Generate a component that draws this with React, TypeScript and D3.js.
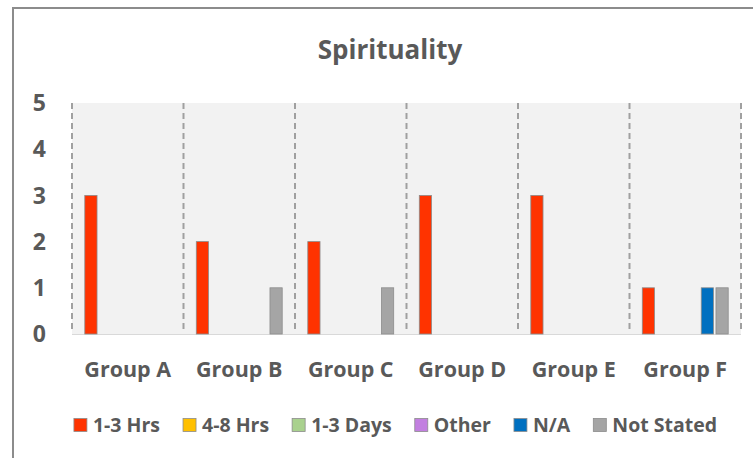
import React from "react";
import * as d3 from "d3";

const title = "Spirituality";
const categories = ["Group A", "Group B", "Group C", "Group D", "Group E", "Group F"];
const seriesNames = ["1-3 Hrs", "4-8 Hrs", "1-3 Days", "Other", "N/A", "Not Stated"];
const seriesColors = ["#FF3300", "#FFC000", "#A9D18E", "#C27FE0", "#0070C0", "#A5A5A5"];
const hrs13 = [3, 2, 2, 3, 3, 1];
const hrs48 = [0, 0, 0, 0, 0, 0];
const days13 = [0, 0, 0, 0, 0, 0];
const other = [0, 0, 0, 0, 0, 0];
const na = [0, 0, 0, 0, 0, 1];
const notStated = [0, 1, 1, 0, 0, 1];
const yTicks = [0, 1, 2, 3, 4, 5];

const seriesValues = [hrs13, hrs48, days13, other, na, notStated];

const W = 753;
const H = 458;
const FONT = "'Open Sans', sans-serif";
const TEXT = "#595959";

function measure(text: string, size: number, weight: number) {
  const c = document.createElement("canvas").getContext("2d")!;
  c.font = `${weight} ${size}px 'Open Sans'`;
  return c.measureText(text).width;
}

export default function App() {
  const plot = { left: 72, right: 741, top: 103, bottom: 334 };
  const x = d3.scaleBand<string>().domain(categories).range([plot.left, plot.right]).padding(0);
  const inner = d3
    .scaleBand<string>()
    .domain(seriesNames)
    .range([12.8, x.bandwidth() - 12.8])
    .paddingInner(0.17)
    .paddingOuter(0);
  const y = d3.scaleLinear().domain([0, 5]).range([plot.bottom, plot.top]);

  const legendSize = 19.5;
  const legendWeight = 700;
  const sw = 13;
  const gapAfterSwatch = 6;
  const itemGap = 23;
  const widths = seriesNames.map((s) => sw + gapAfterSwatch + measure(s, legendSize, legendWeight));
  const total = d3.sum(widths) + itemGap * (seriesNames.length - 1);
  let lx = 395.5 - total / 2;
  const legendItems = seriesNames.map((s, i) => {
    const item = { name: s, color: seriesColors[i], x: lx };
    lx += widths[i] + itemGap;
    return item;
  });
  const legendY = 425;

  return (
    <svg
      width={W}
      height={H}
      style={{ position: "absolute", left: 0, top: 0, background: "#fff" }}
      fontFamily={FONT}
    >
      <rect x={13} y={8} width={W} height={H} fill="#fff" stroke="#8C8C8C" strokeWidth={2} />
      <text x={390} y={59} textAnchor="middle" fontSize={26} fontWeight={700} fill={TEXT}>
        {title}
      </text>
      <rect
        x={plot.left}
        y={plot.top}
        width={plot.right - plot.left}
        height={plot.bottom - plot.top}
        fill="#F2F2F2"
      />
      {yTicks.map((t) => (
        <text
          key={t}
          x={46}
          y={y(t)}
          dy="0.36em"
          textAnchor="end"
          fontSize={23}
          fontWeight={700}
          fill={TEXT}
        >
          {t}
        </text>
      ))}
      {categories.map((c) => (
        <line
          key={"d" + c}
          x1={x(c)!}
          x2={x(c)!}
          y1={plot.top}
          y2={plot.bottom - 4}
          stroke="#A0A0A0"
          strokeWidth={2}
          strokeDasharray="6 4"
        />
      ))}
      <line
        x1={plot.right}
        x2={plot.right}
        y1={plot.top}
        y2={plot.bottom - 4}
        stroke="#A0A0A0"
        strokeWidth={2}
        strokeDasharray="6 4"
      />
      <line x1={plot.left} x2={plot.right} y1={plot.bottom + 0.5} y2={plot.bottom + 0.5} stroke="#D9D9D9" />
      {categories.map((c, ci) =>
        seriesNames.map((s, si) => {
          const v = seriesValues[si][ci];
          if (!v) return null;
          return (
            <rect
              key={c + s}
              x={x(c)! + inner(s)!}
              y={y(v)}
              width={inner.bandwidth()}
              height={y(0) - y(v)}
              fill={seriesColors[si]}
              stroke="#8C8C8C"
              strokeWidth={0.8}
            />
          );
        })
      )}
      {categories.map((c) => (
        <text
          key={"l" + c}
          x={x(c)! + x.bandwidth() / 2}
          y={377}
          textAnchor="middle"
          fontSize={21.5}
          fontWeight={700}
          fill={TEXT}
        >
          {c}
        </text>
      ))}
      {legendItems.map((it) => (
        <g key={it.name} transform={`translate(${it.x},${legendY})`}>
          <rect x={0} y={-6.5} width={sw} height={13} fill={it.color} stroke="#8C8C8C" strokeWidth={0.8} />
          <text x={sw + gapAfterSwatch} y={0} dy="0.36em" fontSize={legendSize} fontWeight={legendWeight} fill={TEXT}>
            {it.name}
          </text>
        </g>
      ))}
    </svg>
  );
}
